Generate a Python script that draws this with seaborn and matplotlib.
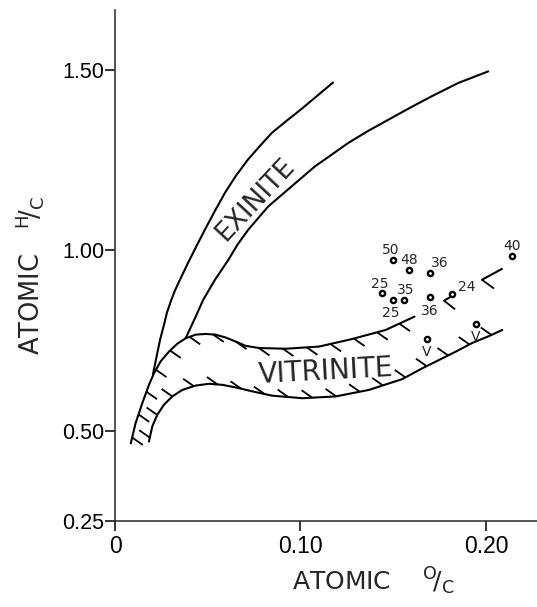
import numpy as np
import matplotlib
matplotlib.use("Agg")
import matplotlib.pyplot as plt
import seaborn as sns
from matplotlib.collections import LineCollection
from matplotlib.transforms import IdentityTransform

# ---------------- data ----------------
exinite_left_x = [0.1175, 0.1089, 0.1008, 0.0927, 0.0846, 0.0782, 0.0717, 0.0652, 0.0593,
                  0.0539, 0.0485, 0.0437, 0.0394, 0.0350, 0.0323, 0.0302, 0.0280, 0.0264,
                  0.0243, 0.0226, 0.0205]
exinite_left_y = [1.464, 1.427, 1.392, 1.359, 1.325, 1.289, 1.251, 1.206, 1.159,
                  1.109, 1.057, 1.009, 0.965, 0.918, 0.888, 0.860, 0.827, 0.793,
                  0.752, 0.710, 0.657]

exinite_right_x = [0.2012, 0.1851, 0.1707, 0.1593, 0.1473, 0.1364, 0.1258, 0.1167, 0.1078,
                   0.0953, 0.0826, 0.0719, 0.0660, 0.0611, 0.0539, 0.0476, 0.0435, 0.0381]
exinite_right_y = [1.495, 1.463, 1.426, 1.395, 1.361, 1.330, 1.297, 1.264, 1.232,
                   1.177, 1.121, 1.057, 1.015, 0.973, 0.918, 0.863, 0.816, 0.756]

vit_upper_x = [0.0085, 0.0111, 0.0147, 0.0183, 0.0210, 0.0246, 0.0291, 0.0336, 0.0381,
               0.0435, 0.0489, 0.0543, 0.0597, 0.0650, 0.0704, 0.0776, 0.0920, 0.1100,
               0.1279, 0.1459, 0.1615]
vit_upper_y = [0.465, 0.521, 0.576, 0.627, 0.659, 0.692, 0.719, 0.741, 0.756,
               0.766, 0.768, 0.766, 0.758, 0.747, 0.735, 0.729, 0.727, 0.733,
               0.754, 0.779, 0.816]

# dashed continuation of the upper vitrinite boundary
vit_dash1_x = [0.1774, 0.1827]
vit_dash1_y = [0.860, 0.876]
vit_dash2_x = [0.1978, 0.2086]
vit_dash2_y = [0.918, 0.948]

vit_lower_x = [0.0183, 0.0201, 0.0228, 0.0264, 0.0309, 0.0363, 0.0435, 0.0507, 0.0579,
               0.0650, 0.0740, 0.0848, 0.1010, 0.1190, 0.1369, 0.1549, 0.1657, 0.1747,
               0.1837, 0.1926, 0.2016, 0.2088]
vit_lower_y = [0.470, 0.512, 0.544, 0.572, 0.595, 0.613, 0.625, 0.630, 0.627,
               0.620, 0.609, 0.597, 0.590, 0.595, 0.613, 0.643, 0.673, 0.696,
               0.719, 0.743, 0.762, 0.779]

sample_oc = [0.1499, 0.1585, 0.1698, 0.1441, 0.1558, 0.1499, 0.1698, 0.1819, 0.2138, 0.1684, 0.1944]
sample_hc = [0.973, 0.944, 0.938, 0.881, 0.863, 0.861, 0.869, 0.878, 0.985, 0.754, 0.795]
sample_labels = ["50", "48", "36", "25", "35", "25", "36", "24", "40", "V", "V"]

x_ticks = [0.0, 0.10, 0.20]
x_tick_labels = ["0", "0.10", "0.20"]
y_ticks = [0.25, 0.50, 1.00, 1.50]
y_tick_labels = ["0.25", "0.50", "1.00", "1.50"]

# ---------------- layout / style ----------------
label_offsets = [(-1.4, 7.2), (0, 7.2), (7.2, 7.2), (-2, 6.5), (1, 7.2), (-2, -9.4),
                 (0, -9.4), (10, 5), (0, 7.2), (-0.7, -9.1), (0, -9.4)]

sns.set_style("ticks")
plt.rcParams["font.family"] = ["DejaVu Sans"]
plt.rcParams["mathtext.fontset"] = "dejavusans"

fig = plt.figure(figsize=(5.37, 6.07), dpi=100)
ax = fig.add_axes([115 / 537, 86 / 607, 422 / 537, 511 / 607])
ax.set_xlim(0, 0.2275)
ax.set_ylim(0.25, 1.665)

LW = 1.5
for xs, ys in [(exinite_left_x, exinite_left_y), (exinite_right_x, exinite_right_y),
               (vit_upper_x, vit_upper_y), (vit_lower_x, vit_lower_y),
               (vit_dash1_x, vit_dash1_y), (vit_dash2_x, vit_dash2_y)]:
    sns.lineplot(x=xs, y=ys, sort=False, estimator=None, color="black",
                 linewidth=LW, ax=ax, legend=False)
for ln in ax.lines:
    ln.set_solid_joinstyle("round")
    ln.set_solid_capstyle("round")


def hatch(xs, ys, spacing, start, length, angle):
    pts = ax.transData.transform(np.column_stack([xs, ys]))
    d = np.hypot(*np.diff(pts, axis=0).T)
    s = np.concatenate([[0.0], np.cumsum(d)])
    st = np.arange(start, s[-1], spacing)
    px = np.interp(st, s, pts[:, 0])
    py = np.interp(st, s, pts[:, 1])
    a = np.radians(angle)
    segs = np.stack([np.column_stack([px, py]),
                     np.column_stack([px + length * np.cos(a), py + length * np.sin(a)])], axis=1)
    lc = LineCollection(segs, colors="black", linewidths=1.3, transform=IdentityTransform(),
                        clip_on=False)
    fig.add_artist(lc)


hatch(vit_upper_x, vit_upper_y, 24, 6, 13, -35)
hatch(vit_lower_x, vit_lower_y, 24, 4, 13, 145)
hatch(vit_dash1_x, vit_dash1_y, 100, 0, 14, -38)
hatch(vit_dash2_x, vit_dash2_y, 100, 0, 15, -36)

sns.scatterplot(x=sample_oc, y=sample_hc, marker="o", s=14, facecolor="white",
                edgecolor="black", linewidth=1.7, ax=ax, legend=False, zorder=5)
for xv, yv, lab, off in zip(sample_oc, sample_hc, sample_labels, label_offsets):
    ax.annotate(lab, (xv, yv), xytext=off, textcoords="offset points",
                ha="center", va="center", fontsize=10)

ax.text(0.0755, 1.140, "EXINITE", rotation=47, ha="center", va="center",
        fontsize=19, rotation_mode="anchor")
ax.text(0.1136, 0.664, "VITRINITE", rotation=3, ha="center", va="center",
        fontsize=20, rotation_mode="anchor")

# axes
sns.despine(ax=ax)
for sp in ("left", "bottom"):
    ax.spines[sp].set_linewidth(1.1)
ax.set_xticks(x_ticks)
ax.set_xticklabels(x_tick_labels)
ax.set_yticks(y_ticks)
ax.set_yticklabels(y_tick_labels)
ax.tick_params(axis="both", direction="out", length=7.2, width=1.1, colors="black")
ax.tick_params(axis="y", pad=0.5, labelsize=15.5)
ax.tick_params(axis="x", pad=3, labelsize=16.5)
for lab in ax.get_yticklabels():
    lab.set_fontfamily(["Liberation Sans"])
for lab in ax.get_xticklabels():
    lab.set_fontfamily(["Liberation Sans"])

ax.set_xlabel(r"ATOMIC    $^{\mathrm{O}}\!/_{\mathrm{C}}$", fontsize=18, ha="left", va="baseline")
ax.xaxis.set_label_coords(0.42, -0.135)
ax.set_ylabel(r"ATOMIC   $^{\mathrm{H}}\!/_{\mathrm{C}}$", fontsize=18.5, ha="left", va="baseline")
ax.yaxis.set_label_coords(-0.178, 0.3249)

fig.savefig("out.png", dpi=100)
